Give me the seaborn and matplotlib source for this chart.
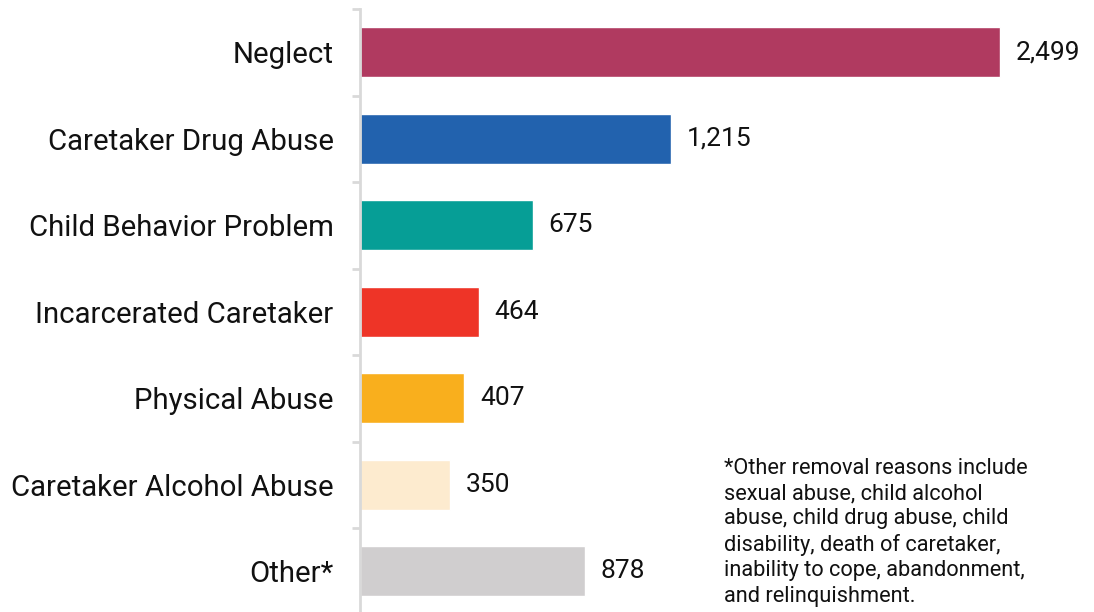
import matplotlib
matplotlib.use("Agg")
import matplotlib.pyplot as plt
import seaborn as sns
import pandas as pd

categories = ["Neglect", "Caretaker Drug Abuse", "Child Behavior Problem",
              "Incarcerated Caretaker", "Physical Abuse",
              "Caretaker Alcohol Abuse", "Other*"]
counts = [2499, 1215, 675, 464, 407, 350, 878]
colors = ["#B03A60", "#2262AE", "#069E96", "#EE3427", "#F9AF1D",
          "#FDEBCF", "#D0CECF"]
footnote = ("*Other removal reasons include\nsexual abuse, child alcohol\n"
            "abuse, child drug abuse, child\ndisability, death of caretaker,\n"
            "inability to cope, abandonment,\nand relinquishment.")

sns.set_style("white")
plt.rcParams["font.family"] = ["Roboto", "DejaVu Sans"]

df = pd.DataFrame({"reason": categories, "count": counts})

fig = plt.figure(figsize=(10.94, 6.12), dpi=100)
ax = fig.add_axes([0.329, -0.004, 0.671, 0.989])
sns.barplot(data=df, y="reason", x="count", hue="reason", palette=colors,
            saturation=1, legend=False, width=0.58, ax=ax, orient="h")

ax.set_xlim(0, 2866)
ax.set_ylim(len(categories) - 0.5, -0.5)
ax.set_xlabel("")
ax.set_ylabel("")
ax.set_xticks([])
ax.tick_params(axis="y", which="major", left=False, length=0, labelsize=21.2,
               pad=19, labelcolor="#111111")
ax.set_yticks([i - 0.5 for i in range(len(categories) + 1)], minor=True)
ax.tick_params(axis="y", which="minor", left=True, length=6, width=2,
               color="#d9d9d9")

for s in ["top", "right", "bottom"]:
    ax.spines[s].set_visible(False)
ax.spines["left"].set_color("#d9d9d9")
ax.spines["left"].set_linewidth(2)

for i, v in enumerate(counts):
    ax.text(v + 62, i, f"{v:,}", va="center", ha="left", fontsize=19,
            color="#111111")

fig.text(0.662, 0.252, footnote, ha="left", va="top", fontsize=15.7,
         linespacing=1.27, color="#111111")

fig.savefig("out.png", dpi=100)
